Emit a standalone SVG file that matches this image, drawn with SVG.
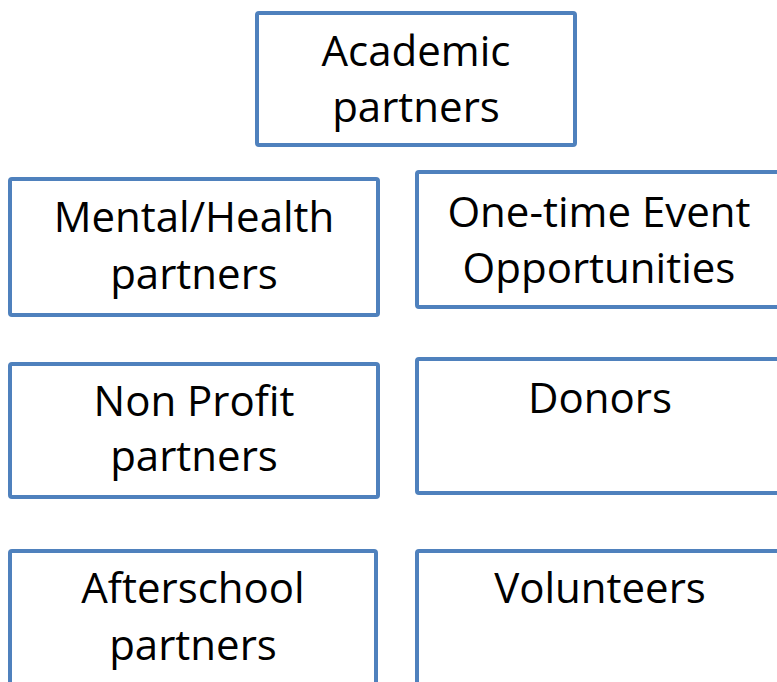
<svg xmlns="http://www.w3.org/2000/svg" width="777" height="682" viewBox="0 0 777 682">
  <style>
    .box { fill: #ffffff; stroke: #4f81bd; stroke-width: 4; }
    .lbl { font-family: "Open Sans", "Liberation Sans", sans-serif; font-size: 42px; fill: #000000; text-anchor: middle; }
  </style>
  <rect x="0" y="0" width="777" height="682" fill="#ffffff"/>
  <g id="academic">
    <rect class="box" x="257" y="13" width="318" height="132" rx="2"/>
    <text class="lbl" x="416" y="66">Academic</text>
    <text class="lbl" x="416" y="122">partners</text>
  </g>
  <g id="mental-health">
    <rect class="box" x="10" y="179" width="368" height="136" rx="2"/>
    <text class="lbl" x="194" y="232">Mental/Health</text>
    <text class="lbl" x="194" y="289">partners</text>
  </g>
  <g id="one-time-event">
    <rect class="box" x="417" y="172" width="370" height="135" rx="2"/>
    <text class="lbl" x="599" y="227">One-time Event</text>
    <text class="lbl" x="599" y="283">Opportunities</text>
  </g>
  <g id="non-profit">
    <rect class="box" x="10" y="364" width="368" height="133" rx="2"/>
    <text class="lbl" x="194" y="416">Non Profit</text>
    <text class="lbl" x="194" y="471">partners</text>
  </g>
  <g id="donors">
    <rect class="box" x="417" y="359" width="370" height="134" rx="2"/>
    <text class="lbl" x="600" y="413">Donors</text>
  </g>
  <g id="afterschool">
    <rect class="box" x="10" y="551" width="366" height="150" rx="2"/>
    <text class="lbl" x="193" y="603">Afterschool</text>
    <text class="lbl" x="193" y="660">partners</text>
  </g>
  <g id="volunteers">
    <rect class="box" x="417" y="551" width="370" height="150" rx="2"/>
    <text class="lbl" x="600" y="603">Volunteers</text>
  </g>
  <g id="connectors"></g>
</svg>
